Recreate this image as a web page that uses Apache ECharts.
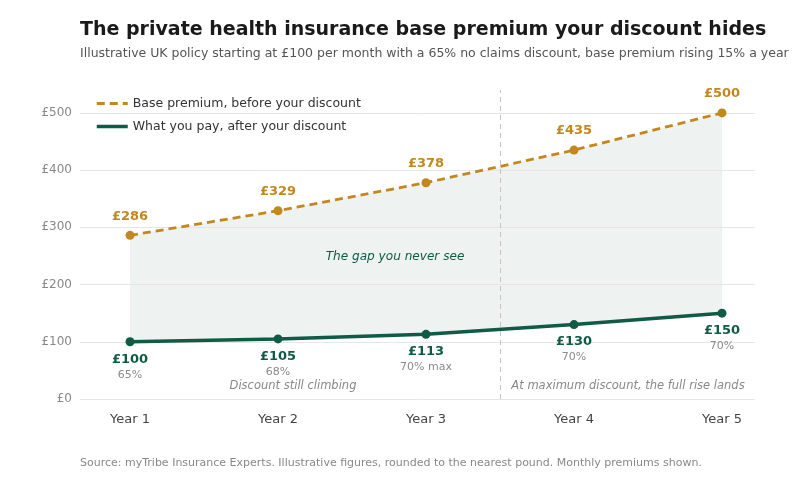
<!DOCTYPE html>
<html>
<head>
<meta charset="utf-8">
<title>Base premium vs what you pay</title>
<script src="https://cdn.jsdelivr.net/npm/echarts@6/dist/echarts.min.js"></script>
<style>
  html, body { margin: 0; padding: 0; background: #fff; }
</style>
</head>
<body>
<div id="main" style="width:800px;height:500px;"></div>
<script type="text/javascript">
// data
var years = ['Year 1', 'Year 2', 'Year 3', 'Year 4', 'Year 5'];
var basePremium = [286, 329, 378, 435, 500];
var youPay = [100, 105, 113, 130, 150];
var discountPct = ['65%', '68%', '70% max', '70%', '70%'];
var yTicks = [0, 100, 200, 300, 400, 500];
var xTicks = [0, 1, 2, 3, 4];

var GOLD = '#c3871f';
var GREEN = '#0f5b45';
var FONT = 'DejaVu Sans';

function pts(arr) {
    return arr.map(function (v, i) { return [i, v]; });
}

var myChart = echarts.init(document.getElementById('main'));

var option = {
    animation: false,
    textStyle: { fontFamily: FONT },
    title: [
        {
            text: 'The private health insurance base premium your discount hides',
            left: 80, top: 21, padding: 0,
            textStyle: { fontFamily: FONT, fontSize: 19, fontWeight: 'bold', color: '#1a1a1a' }
        },
        {
            text: 'Illustrative UK policy starting at £100 per month with a 65% no claims discount, base premium rising 15% a year',
            left: 80, top: 47, padding: 0,
            textStyle: { fontFamily: FONT, fontSize: 12.5, fontWeight: 'normal', color: '#555' }
        },
        {
            text: 'Source: myTribe Insurance Experts. Illustrative figures, rounded to the nearest pound. Monthly premiums shown.',
            left: 80, top: 458, padding: 0,
            textStyle: { fontFamily: FONT, fontSize: 11, fontWeight: 'normal', color: '#888' }
        }
    ],
    legend: {
        orient: 'vertical',
        left: 95, top: 97, padding: 0,
        itemWidth: 31, itemHeight: 12, itemGap: 10,
        itemStyle: { opacity: 0 },
        textStyle: { fontFamily: FONT, fontSize: 12.5, color: '#333' },
        data: [
            { name: 'Base premium, before your discount', lineStyle: { width: 3 } },
            { name: 'What you pay, after your discount', lineStyle: { width: 3.5 } }
        ]
    },
    grid: { left: 80, right: 45, top: 90, bottom: 101 },
    xAxis: {
        type: 'value',
        min: -0.338, max: 4.223,
        axisLine: { show: false },
        axisTick: { show: false, customValues: xTicks },
        splitLine: { show: false },
        axisLabel: {
            customValues: xTicks,
            margin: 14,
            fontFamily: FONT, fontSize: 13, color: '#444',
            formatter: function (v) { return years[Math.round(v)]; }
        }
    },
    yAxis: {
        type: 'value',
        min: 0, max: 540,
        axisLine: { show: false },
        axisTick: { show: false, customValues: yTicks },
        splitLine: { lineStyle: { color: '#e6e6e6', width: 1 } },
        axisLabel: {
            customValues: yTicks,
            margin: 8,
            fontFamily: FONT, fontSize: 12, color: '#888',
            formatter: function (v) { return '£' + v; }
        }
    },
    series: [
        {
            // shaded gap between the two lines
            name: 'gap',
            type: 'custom',
            silent: true,
            z: -1,
            data: pts(basePremium),
            renderItem: function (params, api) {
                if (params.dataIndex !== 0) return null;
                var top = basePremium.map(function (v, i) { return api.coord([i, v]); });
                var bot = youPay.map(function (v, i) { return api.coord([i, v]); }).reverse();
                return {
                    type: 'polygon',
                    shape: { points: top.concat(bot) },
                    style: { fill: '#eef2f0' }
                };
            },
            markLine: {
                silent: true,
                symbol: 'none',
                label: { show: false },
                lineStyle: { color: '#c4c4c4', type: [5, 4], width: 1 },
                data: [{ xAxis: 2.5 }]
            }
        },
        {
            name: 'Base premium, before your discount',
            type: 'line',
            data: pts(basePremium),
            color: GOLD,
            symbol: 'circle',
            symbolSize: 9,
            lineStyle: { color: GOLD, width: 2.8, type: [8, 5] },
            itemStyle: { color: GOLD },
            label: {
                show: true,
                position: 'top',
                distance: 8,
                fontFamily: FONT, fontSize: 13, fontWeight: 'bold', color: GOLD,
                formatter: function (p) { return '£' + p.value[1]; }
            },
            z: 3
        },
        {
            name: 'What you pay, after your discount',
            type: 'line',
            data: pts(youPay),
            color: GREEN,
            symbol: 'circle',
            symbolSize: 9,
            lineStyle: { color: GREEN, width: 3.5 },
            itemStyle: { color: GREEN },
            label: {
                show: true,
                position: 'bottom',
                distance: 5,
                formatter: function (p) {
                    return '{v|£' + p.value[1] + '}\n{p|' + discountPct[p.dataIndex] + '}';
                },
                rich: {
                    v: { fontFamily: FONT, fontSize: 13, fontWeight: 'bold', color: GREEN, lineHeight: 16, align: 'center' },
                    p: { fontFamily: FONT, fontSize: 11, color: '#8a8a8a', lineHeight: 15, align: 'center' }
                }
            },
            z: 3
        }
    ],
    graphic: [
        {
            type: 'text', x: 395, y: 257,
            style: { text: 'The gap you never see', font: 'italic 12.1px "DejaVu Sans"', fill: GREEN, align: 'center', verticalAlign: 'middle' }
        },
        {
            type: 'text', x: 293, y: 386,
            style: { text: 'Discount still climbing', font: 'italic 11.5px "DejaVu Sans"', fill: '#888', align: 'center', verticalAlign: 'middle' }
        },
        {
            type: 'text', x: 628, y: 386,
            style: { text: 'At maximum discount, the full rise lands', font: 'italic 11.5px "DejaVu Sans"', fill: '#888', align: 'center', verticalAlign: 'middle' }
        }
    ]
};

myChart.setOption(option);
</script>
</body>
</html>
